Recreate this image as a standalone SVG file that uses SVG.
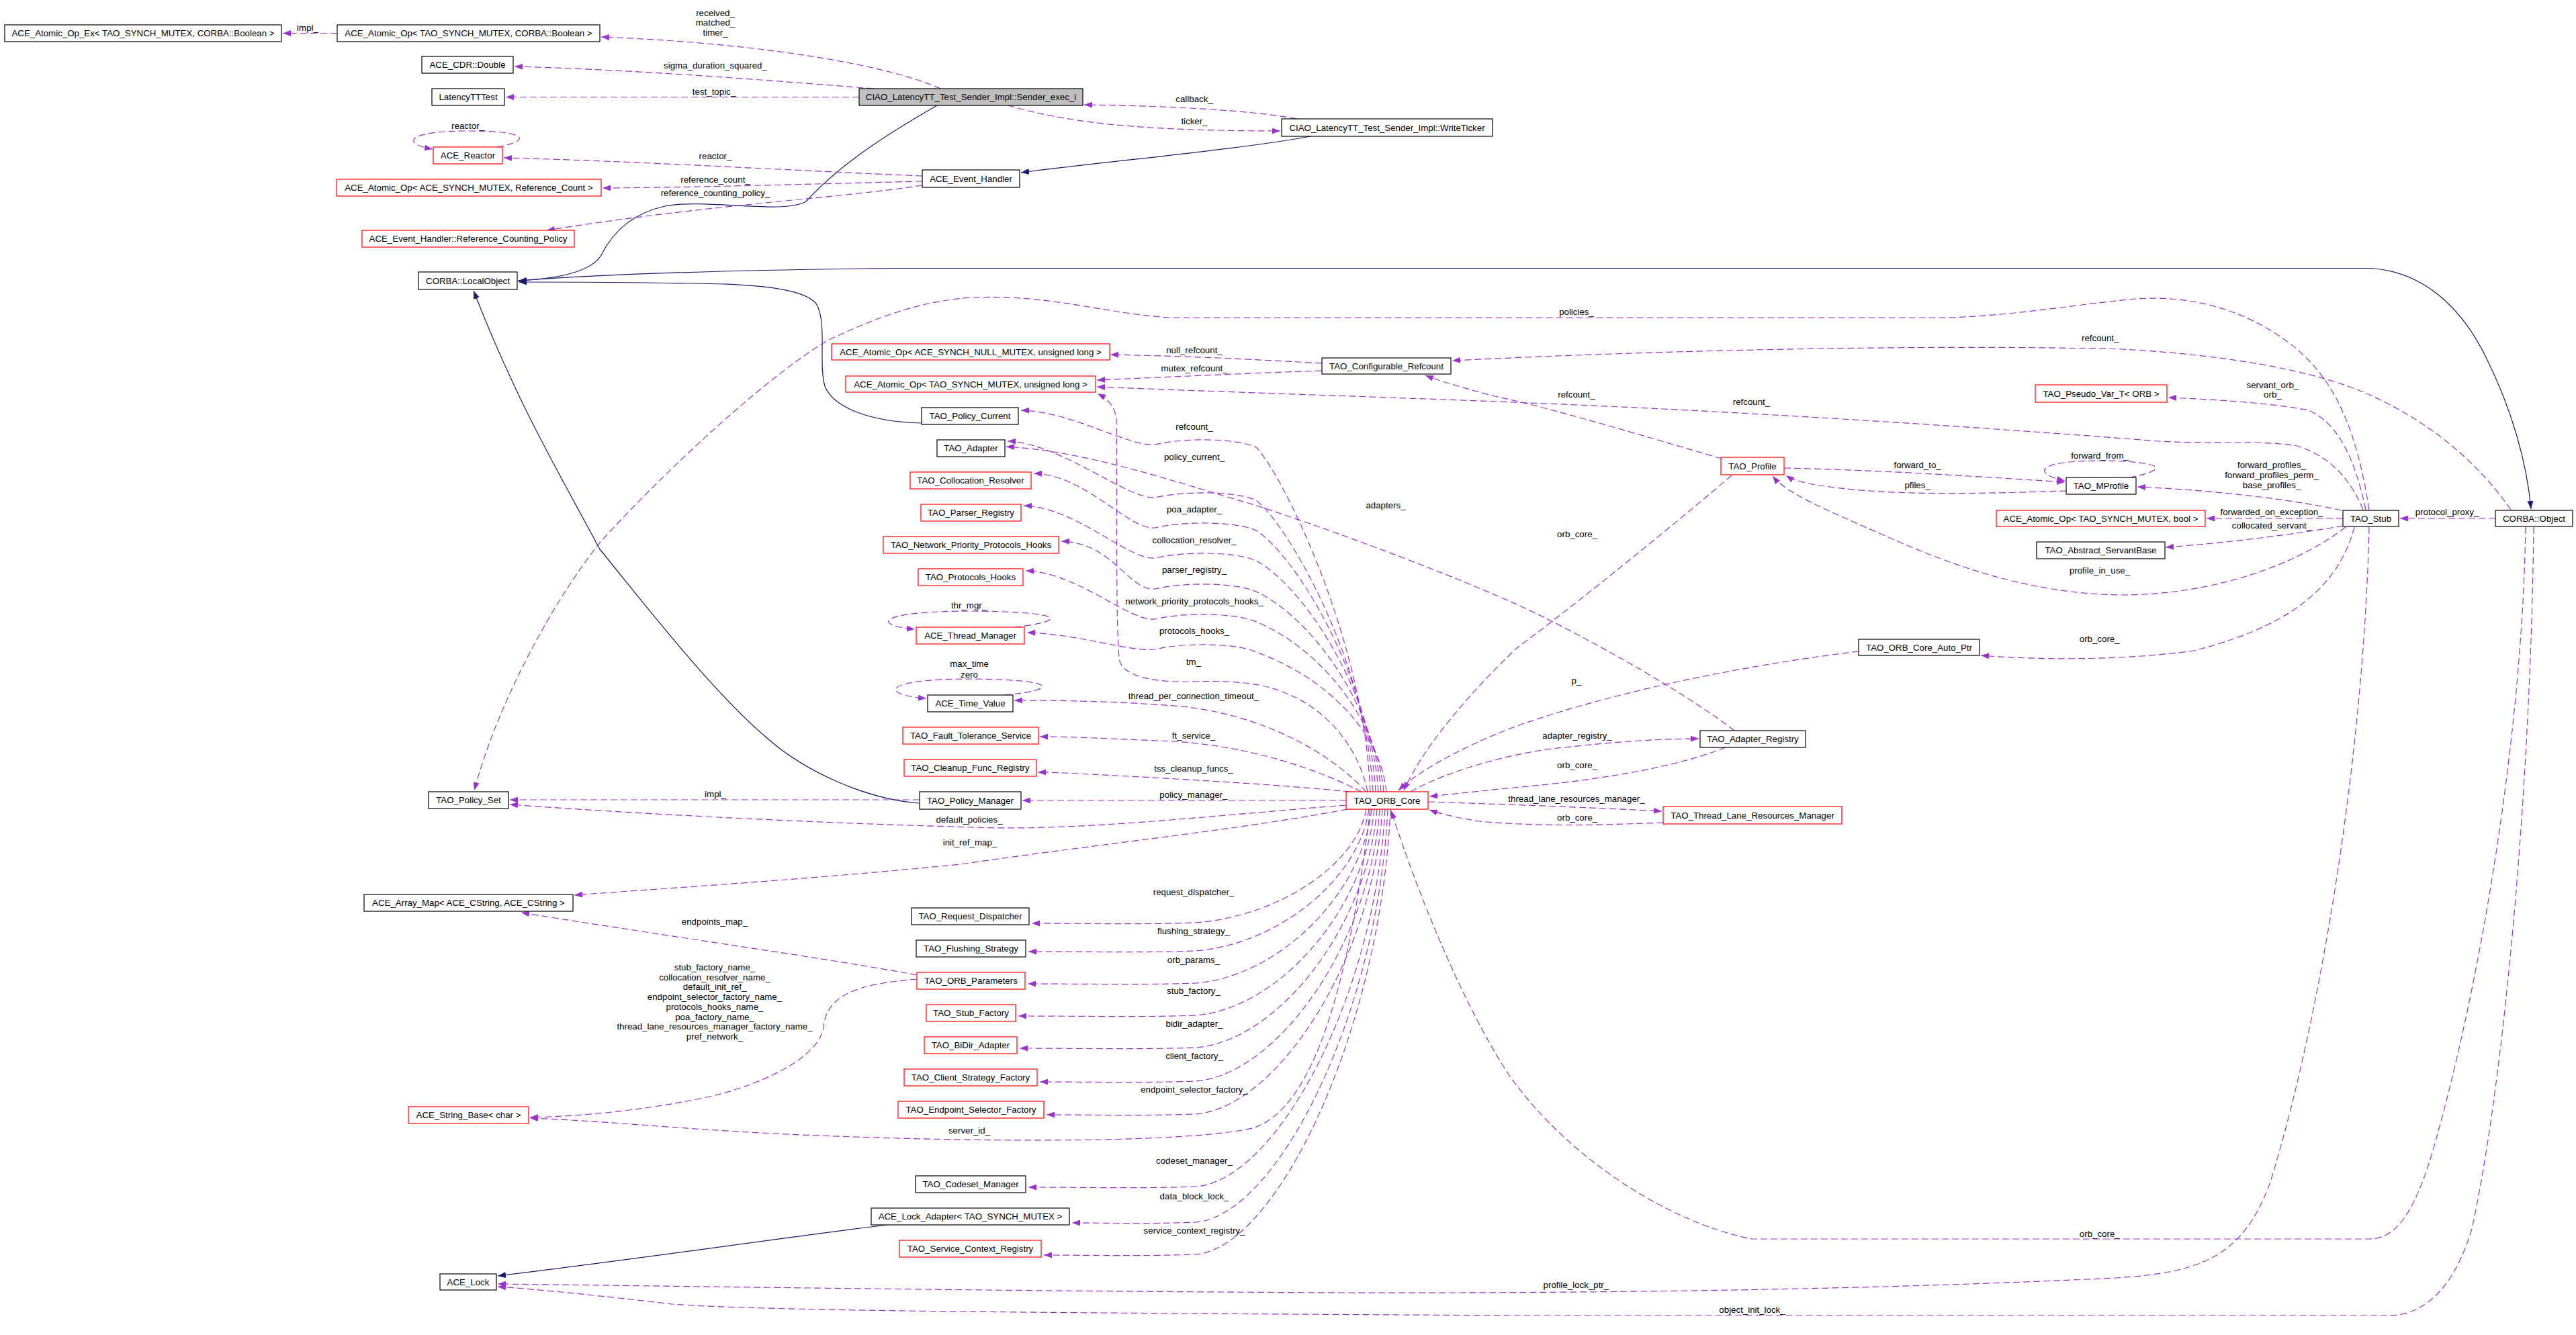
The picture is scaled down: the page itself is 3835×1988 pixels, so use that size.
<svg xmlns="http://www.w3.org/2000/svg" width="3835" height="1988" viewBox="0 0 3835 1988">
<style>
text{font-family:"Liberation Sans",Arial,sans-serif;font-size:13.3px;fill:#000}
.n rect{fill:#fff;stroke:#000;stroke-width:1.2}
.n.r rect{stroke:#f00}
.n.g rect{fill:#bfbfbf}
.n text,.l{text-anchor:middle}
.d{fill:none;stroke:#9a32cd;stroke-width:1.2;stroke-dasharray:10,5;marker-end:url(#ap)}
.i{fill:none;stroke:#191970;stroke-width:1.2;marker-end:url(#an)}
</style>
<defs>
<marker id="ap" markerWidth="12" markerHeight="9" refX="12" refY="4.5" orient="auto" markerUnits="userSpaceOnUse"><path d="M0,0 L12,4.5 L0,9 z" fill="#9a32cd"/></marker>
<marker id="an" markerWidth="12" markerHeight="9" refX="12" refY="4.5" orient="auto" markerUnits="userSpaceOnUse"><path d="M0,0 L12,4.5 L0,9 z" fill="#191970"/></marker>
</defs>
<rect width="3835" height="1988" fill="#fff"/>
<g id="edges">
<path class="d" d="M1400,132 C1330,100 1150,65 895,55"/>
<path class="d" d="M1300,132 C1150,120 950,104 766,99"/>
<path class="d" d="M1279,144.5 L753,144.5"/>
<path class="d" d="M1501,157 C1580,180 1680,195 1906,195"/>
<path class="d" d="M1930,177 C1870,165 1750,158 1614,156"/>
<path class="i" d="M1395,157 C1320,200 1250,245 1200,300 C1165,320 1050,295 990,307 C930,320 905,360 895,380 C880,405 830,415 772,418"/>
<path class="i" d="M1951,203 C1850,222 1650,240 1520,257"/>
<path class="d" d="M502,49.5 L421,49.5"/>
<path class="d" d="M740,219 C790,210 790,195 697,195 C600,195 600,215 644,222"/>
<path class="d" d="M1373,262 C1200,255 950,240 750,235"/>
<path class="d" d="M1373,270 C1200,274 1050,279 897,280"/>
<path class="d" d="M1373,276 C1250,295 1050,305 814,343"/>
<path class="i" d="M771,418 C900,408 1100,402 1333,399.5 L3530,399.5 C3610,405 3665,460 3700,530 C3740,610 3762,690 3768,758"/>
<path class="i" d="M1372,630 C1290,628 1240,605 1228,575 C1218,540 1232,480 1215,452 C1195,428 1120,425 1078,423 C950,420 850,420 772,420"/>
<path class="i" d="M1368,1196 C1290,1190 1200,1150 1143,1100 C1060,1030 960,900 893,818 C830,700 770,600 705,433"/>
<path class="d" d="M3527,759 C3510,650 3480,560 3400,505 C3330,455 3250,440 3180,445 C3100,452 3000,470 2900,473 L1740,473 C1640,466 1560,438 1450,443 C1370,447 1300,475 1232,507 C1150,555 1000,690 893,808 C820,900 740,1050 706,1177"/>
<path class="d" d="M1968,541 C1850,534 1750,530 1653,528"/>
<path class="d" d="M1968,552 C1850,556 1750,561 1633,566"/>
<path class="d" d="M3518,759 C3500,715 3470,680 3420,664 C3360,655 3300,662 3213,657 C3000,640 2700,620 2475,609 C2200,595 1900,587 1633,576"/>
<path class="d" d="M2563,683 C2450,650 2300,605 2225,590 C2180,578 2145,568 2122,559"/>
<path class="d" d="M3738,759 C3690,690 3620,630 3530,589 C3440,548 3300,528 3160,520 C2900,513 2500,520 2162,537"/>
<path class="d" d="M3522,759 C3505,680 3480,630 3437,611 C3380,600 3300,595 3228,592"/>
<path class="d" d="M3486,760 C3420,745 3300,730 3182,725"/>
<path class="d" d="M3488,772 L3285,772"/>
<path class="d" d="M3488,783 C3420,795 3320,808 3224,815"/>
<path class="d" d="M3492,785 C3420,840 3300,885 3160,886 C3020,885 2900,840 2800,795 C2720,760 2660,735 2639,709"/>
<path class="d" d="M2656,697 C2800,700 2950,710 3074,718"/>
<path class="d" d="M3076,731 C2950,735 2800,740 2692,720 C2675,716 2665,712 2659,708"/>
<path class="d" d="M3170,711 C3230,700 3225,687 3128,686 C3030,686 3025,705 3074,716"/>
<path class="d" d="M3715,772 L3573,772"/>
<path class="d" d="M2578,708 C2470,800 2320,920 2258,965 C2190,1030 2120,1110 2090,1177"/>
<path class="d" d="M3505,785 C3480,880 3400,935 3266,969 C3150,985 3020,982 2949,976"/>
<path class="d" d="M2767,970 C2600,990 2400,1030 2253,1083 C2170,1115 2110,1150 2082,1177"/>
<path class="d" d="M2100,1179 C2150,1150 2250,1120 2329,1113 C2400,1105 2470,1100 2529,1100"/>
<path class="d" d="M2569,1113 C2500,1140 2400,1160 2253,1173 C2200,1178 2160,1183 2128,1186"/>
<path class="d" d="M2126,1194 C2250,1198 2380,1203 2474,1208"/>
<path class="d" d="M2476,1225 C2400,1228 2300,1232 2202,1223 C2170,1218 2145,1212 2128,1206"/>
<path class="d" d="M2582,1088 C2520,1040 2400,970 2300,920 C2200,870 2000,795 1868,752 C1750,718 1620,672 1498,665"/>
<path class="d" d="M3760,785 C3755,1100 3690,1480 3620,1720 C3595,1800 3570,1845 3527,1845 L2608,1845 C2480,1820 2330,1720 2246,1600 C2180,1500 2110,1330 2071,1207"/>
<path class="d" d="M3772,785 C3768,1150 3730,1600 3680,1830 C3650,1930 3600,1959 3556,1959 L2250,1959 C1600,1955 1150,1953 1000,1942 C900,1930 800,1920 741,1916"/>
<path class="d" d="M3527,785 C3520,1100 3460,1500 3380,1760 C3340,1870 3280,1895 3150,1903 C2800,1920 2400,1926 2000,1925 C1500,1923 1000,1915 741,1912"/>
<path class="i" d="M1320,1824 C1150,1845 950,1875 741,1900"/>
<path class="d" d="M2040,1179 C2030,945 1905,700 1870,666 C1840,652 1760,652 1720,662 C1680,666 1598,613 1520,611"/>
<path class="d" d="M2044,1179 C2034,981 1915,779 1870,745 C1840,731 1760,731 1720,741 C1680,745 1578,659 1500,657"/>
<path class="d" d="M2048,1179 C2038,1001 1925,824 1870,790 C1840,776 1760,776 1720,786 C1680,790 1617,707 1539,705"/>
<path class="d" d="M2052,1179 C2042,1021 1935,869 1870,835 C1840,821 1760,821 1720,831 C1680,835 1602,755 1524,753"/>
<path class="d" d="M2056,1179 C2046,1042 1945,915 1870,881 C1840,867 1760,867 1720,877 C1680,881 1658,808 1580,806"/>
<path class="d" d="M2060,1179 C2050,1062 1955,960 1870,926 C1840,912 1760,912 1720,922 C1680,926 1605,852 1527,850"/>
<path class="d" d="M2064,1179 C2054,1083 1965,1005 1870,971 C1840,957 1760,957 1720,967 C1680,971 1607,944 1529,942"/>
<path class="d" d="M2036,1179 C2020,1100 1960,1050 1920,1035 C1890,1020 1850,1013 1781,1015 C1720,1017 1675,1008 1667,985 C1660,950 1664,700 1662,625 C1660,605 1650,595 1634,586"/>
<path class="d" d="M1495,1035 C1575,1028 1580,1012 1445,1011 C1310,1011 1310,1035 1379,1040"/>
<path class="d" d="M1510,934 C1590,925 1590,911 1445,910 C1300,910 1300,932 1362,937"/>
<path class="d" d="M2034,1179 C1980,1120 1880,1065 1760,1052 C1660,1044 1580,1043 1510,1043"/>
<path class="d" d="M2027,1179 C1950,1140 1850,1110 1746,1104 C1650,1100 1600,1097 1548,1097"/>
<path class="d" d="M2010,1179 C1900,1168 1750,1160 1700,1157 C1620,1153 1580,1150 1545,1150"/>
<path class="d" d="M2004,1192 L1522,1192"/>
<path class="d" d="M1369,1191 L759,1191"/>
<path class="d" d="M2004,1199 C1800,1215 1600,1238 1450,1232 C1200,1225 950,1212 759,1198"/>
<path class="d" d="M2006,1205 C1850,1235 1650,1255 1430,1287 C1200,1310 1000,1322 855,1333"/>
<path class="d" d="M2034,1205 C2019,1290 1900,1365 1780,1374 C1700,1377 1620,1375 1536,1375"/>
<path class="d" d="M2038,1205 C2023,1311 1900,1407 1780,1416 C1700,1419 1620,1417 1531,1417"/>
<path class="d" d="M2042,1205 C2027,1335 1900,1455 1780,1464 C1700,1467 1620,1465 1530,1465"/>
<path class="d" d="M2046,1205 C2031,1359 1900,1503 1780,1512 C1700,1515 1620,1513 1516,1513"/>
<path class="d" d="M2050,1205 C2035,1383 1900,1551 1780,1560 C1700,1563 1620,1561 1518,1561"/>
<path class="d" d="M2054,1205 C2039,1408 1900,1601 1780,1610 C1700,1613 1620,1611 1548,1611"/>
<path class="d" d="M2058,1205 C2043,1432 1900,1650 1780,1659 C1700,1662 1620,1660 1558,1660"/>
<path class="d" d="M2040,1205 C2010,1450 1960,1650 1865,1680 C1750,1705 1400,1700 1150,1688 C1000,1680 880,1668 789,1665"/>
<path class="d" d="M2062,1205 C2047,1486 1900,1758 1780,1767 C1700,1770 1620,1768 1531,1768"/>
<path class="d" d="M2066,1205 C2051,1513 1900,1811 1780,1820 C1700,1823 1660,1821 1596,1821"/>
<path class="d" d="M2070,1205 C2055,1537 1900,1859 1780,1868 C1700,1871 1620,1869 1554,1869"/>
<path class="d" d="M1365,1452 C1250,1430 1000,1395 776,1359"/>
<path class="d" d="M1365,1458 C1280,1465 1230,1480 1226,1530 C1220,1570 1150,1610 1061,1632 C980,1650 880,1662 789,1664"/>
</g>
<g id="edge-labels">
<text class="l" x="1065" y="23.6">received_</text>
<text class="l" x="1065" y="37.6">matched_</text>
<text class="l" x="1065" y="52.6">timer_</text>
<text class="l" x="458" y="45.6">impl_</text>
<text class="l" x="1065" y="101.6">sigma_duration_squared_</text>
<text class="l" x="1063" y="140.6">test_topic_</text>
<text class="l" x="1778" y="151.6">callback_</text>
<text class="l" x="1778" y="184.6">ticker_</text>
<text class="l" x="696.5" y="191.6">reactor_</text>
<text class="l" x="1065" y="236.6">reactor_</text>
<text class="l" x="1065" y="271.6">reference_count_</text>
<text class="l" x="1065" y="291.6">reference_counting_policy_</text>
<text class="l" x="2347" y="469.2">policies_</text>
<text class="l" x="1778" y="525.6">null_refcount_</text>
<text class="l" x="1778" y="552.6">mutex_refcount_</text>
<text class="l" x="2347" y="591.6">refcount_</text>
<text class="l" x="2607.5" y="603.3">refcount_</text>
<text class="l" x="3126.7" y="508.4">refcount_</text>
<text class="l" x="1778" y="639.6">refcount_</text>
<text class="l" x="1778" y="684.6">policy_current_</text>
<text class="l" x="2063" y="756.6">adapters_</text>
<text class="l" x="1778" y="763.2">poa_adapter_</text>
<text class="l" x="1778" y="808.6">collocation_resolver_</text>
<text class="l" x="1778" y="853.2">parser_registry_</text>
<text class="l" x="1778" y="899.6">network_priority_protocols_hooks_</text>
<text class="l" x="1778" y="944.2">protocols_hooks_</text>
<text class="l" x="1442.5" y="905.6">thr_mgr_</text>
<text class="l" x="1777" y="989.6">tm_</text>
<text class="l" x="1443" y="993.2">max_time</text>
<text class="l" x="1443" y="1008.6">zero</text>
<text class="l" x="1777" y="1041.4">thread_per_connection_timeout_</text>
<text class="l" x="1777" y="1100.3">ft_service_</text>
<text class="l" x="1777" y="1149.2">tss_cleanup_funcs_</text>
<text class="l" x="1777" y="1187.6">policy_manager_</text>
<text class="l" x="1065" y="1187.3">impl_</text>
<text class="l" x="1443" y="1225.3">default_policies_</text>
<text class="l" x="1444" y="1259.2">init_ref_map_</text>
<text class="l" x="1777" y="1333.2">request_dispatcher_</text>
<text class="l" x="1064" y="1377">endpoints_map_</text>
<text class="l" x="1777" y="1391.4">flushing_strategy_</text>
<text class="l" x="1777" y="1433.6">orb_params_</text>
<text class="l" x="1777" y="1480.3">stub_factory_</text>
<text class="l" x="1064" y="1445">stub_factory_name_</text>
<text class="l" x="1064" y="1459.6">collocation_resolver_name_</text>
<text class="l" x="1064" y="1474.4">default_init_ref_</text>
<text class="l" x="1064" y="1489.1">endpoint_selector_factory_name_</text>
<text class="l" x="1064" y="1503.9">protocols_hooks_name_</text>
<text class="l" x="1064" y="1518.6">poa_factory_name_</text>
<text class="l" x="1064" y="1533.3">thread_lane_resources_manager_factory_name_</text>
<text class="l" x="1064" y="1548">pref_network_</text>
<text class="l" x="1778" y="1528.6">bidir_adapter_</text>
<text class="l" x="1778" y="1577.3">client_factory_</text>
<text class="l" x="1778" y="1627.3">endpoint_selector_factory_</text>
<text class="l" x="1443" y="1688.3">server_id_</text>
<text class="l" x="1778" y="1732.6">codeset_manager_</text>
<text class="l" x="1778" y="1785.6">data_block_lock_</text>
<text class="l" x="1778" y="1837.3">service_context_registry_</text>
<text class="l" x="2348" y="800.2">orb_core_</text>
<text class="l" x="2854.6" y="697.4">forward_to_</text>
<text class="l" x="2854.6" y="727">pfiles_</text>
<text class="l" x="3383.4" y="577.6">servant_orb_</text>
<text class="l" x="3383.4" y="592.2">orb_</text>
<text class="l" x="3126" y="683.1">forward_from_</text>
<text class="l" x="3382" y="697.4">forward_profiles_</text>
<text class="l" x="3382" y="712.4">forward_profiles_perm_</text>
<text class="l" x="3382" y="727">base_profiles_</text>
<text class="l" x="3382" y="767.4">forwarded_on_exception_</text>
<text class="l" x="3382" y="787.1">collocated_servant_</text>
<text class="l" x="3643" y="767.4">protocol_proxy_</text>
<text class="l" x="3126" y="853.6">profile_in_use_</text>
<text class="l" x="3125.7" y="956.4">orb_core_</text>
<text class="l" x="2347" y="1017.9">p_</text>
<text class="l" x="2348" y="1099.6">adapter_registry_</text>
<text class="l" x="2348" y="1143.6">orb_core_</text>
<text class="l" x="2347" y="1193.6">thread_lane_resources_manager_</text>
<text class="l" x="2348" y="1221.6">orb_core_</text>
<text class="l" x="3125.8" y="1841.6">orb_core_</text>
<text class="l" x="2346.4" y="1917.6">profile_lock_ptr_</text>
<text class="l" x="2608.5" y="1955.3">object_init_lock_</text>
</g>
<g id="node1" class="n"><rect x="7" y="37" width="412" height="25"/><text x="213" y="54.1">ACE_Atomic_Op_Ex&lt; TAO_SYNCH_MUTEX, CORBA::Boolean &gt;</text></g>
<g id="node2" class="n"><rect x="502" y="37" width="391" height="25"/><text x="697.5" y="54.1">ACE_Atomic_Op&lt; TAO_SYNCH_MUTEX, CORBA::Boolean &gt;</text></g>
<g id="node3" class="n"><rect x="628" y="84" width="136" height="25"/><text x="696" y="101.1">ACE_CDR::Double</text></g>
<g id="node4" class="n"><rect x="643" y="132" width="108" height="25"/><text x="697" y="149.1">LatencyTTTest</text></g>
<g id="node5" class="n r"><rect x="645" y="219" width="103" height="25"/><text x="696.5" y="236.1">ACE_Reactor</text></g>
<g id="node6" class="n r"><rect x="501" y="267" width="394" height="25"/><text x="698" y="284.1">ACE_Atomic_Op&lt; ACE_SYNCH_MUTEX, Reference_Count &gt;</text></g>
<g id="node7" class="n r"><rect x="539" y="343" width="316" height="25"/><text x="697" y="360.1">ACE_Event_Handler::Reference_Counting_Policy</text></g>
<g id="node8" class="n"><rect x="623" y="405" width="147" height="26"/><text x="696.5" y="422.6">CORBA::LocalObject</text></g>
<g id="node9" class="n g"><rect x="1279" y="132" width="333" height="25"/><text x="1445.5" y="149.1">CIAO_LatencyTT_Test_Sender_Impl::Sender_exec_i</text></g>
<g id="node10" class="n"><rect x="1908" y="177" width="314" height="26"/><text x="2065" y="194.6">CIAO_LatencyTT_Test_Sender_Impl::WriteTicker</text></g>
<g id="node11" class="n"><rect x="1373" y="253" width="145" height="26"/><text x="1445.5" y="270.6">ACE_Event_Handler</text></g>
<g id="node12" class="n r"><rect x="1238" y="512" width="414" height="24"/><text x="1445" y="528.6">ACE_Atomic_Op&lt; ACE_SYNCH_NULL_MUTEX, unsigned long &gt;</text></g>
<g id="node13" class="n r"><rect x="1259" y="560" width="372" height="24"/><text x="1445" y="576.6">ACE_Atomic_Op&lt; TAO_SYNCH_MUTEX, unsigned long &gt;</text></g>
<g id="node14" class="n"><rect x="1372" y="607" width="144" height="25"/><text x="1444" y="624.1">TAO_Policy_Current</text></g>
<g id="node15" class="n"><rect x="1395" y="655" width="101" height="25"/><text x="1445.5" y="672.1">TAO_Adapter</text></g>
<g id="node16" class="n r"><rect x="1355" y="703" width="180" height="25"/><text x="1445" y="720.1">TAO_Collocation_Resolver</text></g>
<g id="node17" class="n r"><rect x="1371" y="751" width="149" height="25"/><text x="1445.5" y="768.1">TAO_Parser_Registry</text></g>
<g id="node18" class="n r"><rect x="1315" y="799" width="261" height="25"/><text x="1445.5" y="816.1">TAO_Network_Priority_Protocols_Hooks</text></g>
<g id="node19" class="n r"><rect x="1367" y="847" width="156" height="25"/><text x="1445" y="864.1">TAO_Protocols_Hooks</text></g>
<g id="node20" class="n r"><rect x="1364" y="934" width="161" height="25"/><text x="1444.5" y="951.1">ACE_Thread_Manager</text></g>
<g id="node21" class="n"><rect x="1968" y="533" width="192" height="24"/><text x="2064" y="549.6">TAO_Configurable_Refcount</text></g>
<g id="node22" class="n"><rect x="1381" y="1035" width="127" height="25"/><text x="1444.5" y="1052.1">ACE_Time_Value</text></g>
<g id="node23" class="n r"><rect x="1344" y="1083" width="202" height="25"/><text x="1445" y="1100.1">TAO_Fault_Tolerance_Service</text></g>
<g id="node24" class="n r"><rect x="1346" y="1131" width="197" height="25"/><text x="1444.5" y="1148.1">TAO_Cleanup_Func_Registry</text></g>
<g id="node25" class="n"><rect x="1369" y="1179" width="151" height="26"/><text x="1444.5" y="1196.6">TAO_Policy_Manager</text></g>
<g id="node26" class="n r"><rect x="2004" y="1179" width="122" height="26"/><text x="2065" y="1196.6">TAO_ORB_Core</text></g>
<g id="node27" class="n"><rect x="1357" y="1352" width="175" height="25"/><text x="1444.5" y="1369.1">TAO_Request_Dispatcher</text></g>
<g id="node28" class="n"><rect x="1364" y="1400" width="163" height="25"/><text x="1445.5" y="1417.1">TAO_Flushing_Strategy</text></g>
<g id="node29" class="n r"><rect x="1365" y="1448" width="161" height="25"/><text x="1445.5" y="1465.1">TAO_ORB_Parameters</text></g>
<g id="node30" class="n r"><rect x="1379" y="1496" width="133" height="25"/><text x="1445.5" y="1513.1">TAO_Stub_Factory</text></g>
<g id="node31" class="n r"><rect x="1376" y="1544" width="138" height="25"/><text x="1445" y="1561.1">TAO_BiDir_Adapter</text></g>
<g id="node32" class="n r"><rect x="1346" y="1592" width="198" height="25"/><text x="1445" y="1609.1">TAO_Client_Strategy_Factory</text></g>
<g id="node33" class="n r"><rect x="1337" y="1640" width="217" height="25"/><text x="1445.5" y="1657.1">TAO_Endpoint_Selector_Factory</text></g>
<g id="node34" class="n"><rect x="1363" y="1751" width="164" height="25"/><text x="1445" y="1768.1">TAO_Codeset_Manager</text></g>
<g id="node35" class="n"><rect x="1297" y="1799" width="295" height="25"/><text x="1444.5" y="1816.1">ACE_Lock_Adapter&lt; TAO_SYNCH_MUTEX &gt;</text></g>
<g id="node36" class="n r"><rect x="1339" y="1847" width="211" height="25"/><text x="1444.5" y="1864.1">TAO_Service_Context_Registry</text></g>
<g id="node37" class="n"><rect x="638" y="1179" width="119" height="25"/><text x="697.5" y="1196.1">TAO_Policy_Set</text></g>
<g id="node38" class="n"><rect x="542" y="1332" width="311" height="25"/><text x="697.5" y="1349.1">ACE_Array_Map&lt; ACE_CString, ACE_CString &gt;</text></g>
<g id="node39" class="n r"><rect x="608" y="1648" width="179" height="25"/><text x="697.5" y="1665.1">ACE_String_Base&lt; char &gt;</text></g>
<g id="node40" class="n"><rect x="655" y="1897" width="84" height="24"/><text x="697" y="1913.6">ACE_Lock</text></g>
<g id="node41" class="n r"><rect x="2562" y="681" width="94" height="26"/><text x="2609" y="698.6">TAO_Profile</text></g>
<g id="node42" class="n"><rect x="2767" y="952" width="180" height="24"/><text x="2857" y="968.6">TAO_ORB_Core_Auto_Ptr</text></g>
<g id="node43" class="n r"><rect x="3030" y="573" width="196" height="26"/><text x="3128" y="590.6">TAO_Pseudo_Var_T&lt; ORB &gt;</text></g>
<g id="node44" class="n"><rect x="3076" y="711" width="104" height="25"/><text x="3128" y="728.1">TAO_MProfile</text></g>
<g id="node45" class="n r"><rect x="2972" y="760" width="311" height="24"/><text x="3127.5" y="776.6">ACE_Atomic_Op&lt; TAO_SYNCH_MUTEX, bool &gt;</text></g>
<g id="node46" class="n"><rect x="3032" y="807" width="191" height="25"/><text x="3127.5" y="824.1">TAO_Abstract_ServantBase</text></g>
<g id="node47" class="n"><rect x="3488" y="760" width="83" height="24"/><text x="3529.5" y="776.6">TAO_Stub</text></g>
<g id="node48" class="n"><rect x="3715" y="760" width="115" height="24"/><text x="3772.5" y="776.6">CORBA::Object</text></g>
<g id="node49" class="n"><rect x="2531" y="1088" width="157" height="25"/><text x="2609.5" y="1105.1">TAO_Adapter_Registry</text></g>
<g id="node50" class="n r"><rect x="2476" y="1201" width="266" height="26"/><text x="2609" y="1218.6">TAO_Thread_Lane_Resources_Manager</text></g>
</svg>
